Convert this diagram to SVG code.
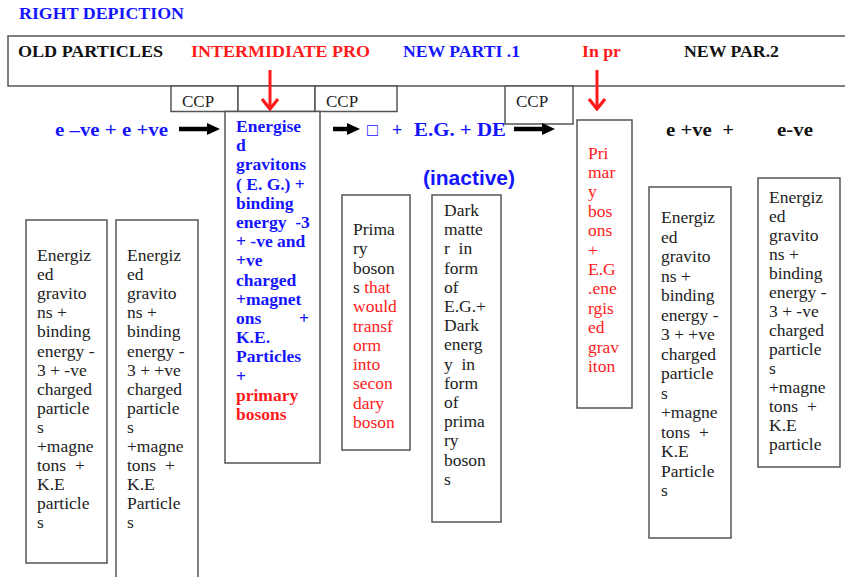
<svg xmlns="http://www.w3.org/2000/svg" width="845" height="577" viewBox="0 0 845 577">
<defs>
<style>
.box{fill:#fff;stroke:#555;stroke-width:1.5}
.hdr{font-family:"Liberation Serif","Times New Roman",serif;font-weight:bold;font-size:17px}
.t{font-family:"Liberation Serif","Times New Roman",serif;font-size:17.5px;fill:#222}
.tb{font-family:"Liberation Serif","Times New Roman",serif;font-size:17.5px;font-weight:bold;fill:#1414ff}
.ccp{font-family:"Liberation Serif","Times New Roman",serif;font-size:17px;fill:#222}
.blue{fill:#1414ff}
.red{fill:#ff1a1a}
.blk{fill:#111}
.eq{font-family:"Liberation Serif","Times New Roman",serif;font-weight:bold;font-size:18px}
</style>
<marker id="blkhead" markerUnits="userSpaceOnUse" viewBox="0 0 13 12" refX="0" refY="6" markerWidth="13" markerHeight="12" orient="auto">
<path d="M0,0 L13,6 L0,12 z" fill="#000"/>
</marker>
<marker id="redhead" markerUnits="userSpaceOnUse" viewBox="-12 -10 14 20" refX="0" refY="0" markerWidth="14" markerHeight="20" orient="auto">
<path d="M-10,-8 L0,0 L-10,8" fill="none" stroke="#ff1a1a" stroke-width="3.2"/>
</marker>
</defs>
<rect width="845" height="577" fill="#fff"/>

<text x="19" y="19" class="hdr blue" font-size="15" textLength="165" lengthAdjust="spacingAndGlyphs">RIGHT DEPICTION</text>

<g id="header">
<rect x="8" y="36" width="845" height="50" class="box" stroke="#777"/>
<text x="18" y="57" class="hdr blk" textLength="145" lengthAdjust="spacingAndGlyphs">OLD PARTICLES</text>
<text x="191" y="57" class="hdr red" textLength="179" lengthAdjust="spacingAndGlyphs">INTERMIDIATE PRO</text>
<text x="403" y="57" class="hdr blue" textLength="117" lengthAdjust="spacingAndGlyphs">NEW PARTI .1</text>
<text x="582" y="57" class="hdr red" textLength="39" lengthAdjust="spacingAndGlyphs">In pr</text>
<text x="684" y="57" class="hdr blk" textLength="95" lengthAdjust="spacingAndGlyphs">NEW PAR.2</text>
</g>

<g id="ccp1"><rect x="171" y="86" width="67" height="25.5" class="box"/><text x="182" y="107" class="ccp">CCP</text></g>
<g id="ccp-mid"><rect x="238" y="86" width="77" height="25.5" class="box"/></g>
<g id="ccp2"><rect x="315" y="86" width="82" height="25.5" class="box"/><text x="326" y="107" class="ccp">CCP</text></g>
<g id="ccp3"><rect x="505" y="86" width="68" height="38" class="box"/><text x="516" y="107" class="ccp">CCP</text></g>

<g id="eq-left"><text x="55" y="136" class="eq blue" textLength="113" lengthAdjust="spacingAndGlyphs">e –ve + e +ve</text></g>
<g id="eq-mid">
<text x="367" y="136" class="eq blue" font-weight="normal">□</text>
<text x="392" y="136" class="eq blue">+</text>
<text x="414" y="136" class="eq blue" textLength="92" lengthAdjust="spacingAndGlyphs">E.G. + DE</text>
</g>
<g id="eq-right">
<text x="666" y="136" class="eq blk" textLength="68" lengthAdjust="spacingAndGlyphs">e +ve&#160;&#160;+</text>
<text x="777" y="136" class="eq blk" textLength="36" lengthAdjust="spacingAndGlyphs">e-ve</text>
</g>
<g id="inactive"><text x="423" y="185" font-family="'Liberation Sans',Arial,sans-serif" font-weight="bold" font-size="20" class="blue" textLength="92" lengthAdjust="spacingAndGlyphs">(inactive)</text></g>

<g id="energised">
<rect x="225" y="111.5" width="95" height="351.5" class="box"/>
<text class="tb">
<tspan x="236" y="132">Energise</tspan>
<tspan x="236" y="151.2">d</tspan>
<tspan x="236" y="170.4">gravitons</tspan>
<tspan x="236" y="189.6">( E. G.) +</tspan>
<tspan x="236" y="208.8">binding</tspan>
<tspan x="236" y="228">energy&#160;&#160;-3</tspan>
<tspan x="236" y="247.2">+ -ve and</tspan>
<tspan x="236" y="266.4">+ve</tspan>
<tspan x="236" y="285.6">charged</tspan>
<tspan x="236" y="304.8">+magnet</tspan>
<tspan x="236" y="324">ons</tspan>
<tspan x="236" y="343.2">K.E.</tspan>
<tspan x="236" y="362.4">Particles</tspan>
<tspan x="236" y="381.6">+</tspan>
<tspan x="236" y="400.8" class="red">primary</tspan>
<tspan x="236" y="420" class="red">bosons</tspan>
</text>
<text x="309" y="324" class="tb" text-anchor="end">+</text>
</g>

<g id="old-neg">
<rect x="26" y="220" width="81" height="343" class="box"/>
<text class="t">
<tspan x="37" y="261">Energiz</tspan>
<tspan x="37" y="280.1">ed</tspan>
<tspan x="37" y="299.2">gravito</tspan>
<tspan x="37" y="318.3">ns +</tspan>
<tspan x="37" y="337.4">binding</tspan>
<tspan x="37" y="356.5">energy -</tspan>
<tspan x="37" y="375.6">3 + -ve</tspan>
<tspan x="37" y="394.7">charged</tspan>
<tspan x="37" y="413.8">particle</tspan>
<tspan x="37" y="432.9">s</tspan>
<tspan x="37" y="452">+magne</tspan>
<tspan x="37" y="471.1">tons&#160;&#160;+</tspan>
<tspan x="37" y="490.2">K.E</tspan>
<tspan x="37" y="509.3">particle</tspan>
<tspan x="37" y="528.4">s</tspan>
</text>
</g>

<g id="old-pos">
<rect x="116" y="220" width="82" height="362" class="box"/>
<text class="t">
<tspan x="127" y="261">Energiz</tspan>
<tspan x="127" y="280.1">ed</tspan>
<tspan x="127" y="299.2">gravito</tspan>
<tspan x="127" y="318.3">ns +</tspan>
<tspan x="127" y="337.4">binding</tspan>
<tspan x="127" y="356.5">energy -</tspan>
<tspan x="127" y="375.6">3 + +ve</tspan>
<tspan x="127" y="394.7">charged</tspan>
<tspan x="127" y="413.8">particle</tspan>
<tspan x="127" y="432.9">s</tspan>
<tspan x="127" y="452">+magne</tspan>
<tspan x="127" y="471.1">tons&#160;&#160;+</tspan>
<tspan x="127" y="490.2">K.E</tspan>
<tspan x="127" y="509.3">Particle</tspan>
<tspan x="127" y="528.4">s</tspan>
</text>
</g>

<g id="primary-bosons">
<rect x="342" y="195" width="68" height="255" class="box"/>
<text class="t">
<tspan x="353" y="235">Prima</tspan>
<tspan x="353" y="254.3">ry</tspan>
<tspan x="353" y="273.6">boson</tspan>
<tspan x="353" y="292.9">s <tspan class="red">that</tspan></tspan>
<tspan x="353" y="312.2" class="red">would</tspan>
<tspan x="353" y="331.5" class="red">transf</tspan>
<tspan x="353" y="350.8" class="red">orm</tspan>
<tspan x="353" y="370.1" class="red">into</tspan>
<tspan x="353" y="389.4" class="red">secon</tspan>
<tspan x="353" y="408.7" class="red">dary</tspan>
<tspan x="353" y="428" class="red">boson</tspan>
</text>
</g>

<g id="dark-matter">
<rect x="432" y="195" width="69" height="327" class="box"/>
<text class="t">
<tspan x="444" y="216">Dark</tspan>
<tspan x="444" y="235.2">matte</tspan>
<tspan x="444" y="254.4">r&#160;&#160;in</tspan>
<tspan x="444" y="273.6">form</tspan>
<tspan x="444" y="292.8">of</tspan>
<tspan x="444" y="312">E.G.+</tspan>
<tspan x="444" y="331.2">Dark</tspan>
<tspan x="444" y="350.4">energ</tspan>
<tspan x="444" y="369.6">y&#160;&#160;in</tspan>
<tspan x="444" y="388.8">form</tspan>
<tspan x="444" y="408">of</tspan>
<tspan x="444" y="427.2">prima</tspan>
<tspan x="444" y="446.4">ry</tspan>
<tspan x="444" y="465.6">boson</tspan>
<tspan x="444" y="484.8">s</tspan>
</text>
</g>

<g id="primary-eg">
<rect x="577" y="120" width="55" height="288" class="box"/>
<text class="t red">
<tspan x="588" y="158.5">Pri</tspan>
<tspan x="588" y="177.9">mar</tspan>
<tspan x="588" y="197.3">y</tspan>
<tspan x="588" y="216.7">bos</tspan>
<tspan x="588" y="236.1">ons</tspan>
<tspan x="588" y="255.5">+</tspan>
<tspan x="588" y="274.9">E.G</tspan>
<tspan x="588" y="294.3">.ene</tspan>
<tspan x="588" y="313.7">rgis</tspan>
<tspan x="588" y="333.1">ed</tspan>
<tspan x="588" y="352.5">grav</tspan>
<tspan x="588" y="371.9">iton</tspan>
</text>
</g>

<g id="new-pos">
<rect x="649" y="187" width="82" height="351" class="box"/>
<text class="t">
<tspan x="661" y="223">Energiz</tspan>
<tspan x="661" y="242.5">ed</tspan>
<tspan x="661" y="262">gravito</tspan>
<tspan x="661" y="281.5">ns +</tspan>
<tspan x="661" y="301">binding</tspan>
<tspan x="661" y="320.5">energy -</tspan>
<tspan x="661" y="340">3 + +ve</tspan>
<tspan x="661" y="359.5">charged</tspan>
<tspan x="661" y="379">particle</tspan>
<tspan x="661" y="398.5">s</tspan>
<tspan x="661" y="418">+magne</tspan>
<tspan x="661" y="437.5">tons&#160;&#160;+</tspan>
<tspan x="661" y="457">K.E</tspan>
<tspan x="661" y="476.5">Particle</tspan>
<tspan x="661" y="496">s</tspan>
</text>
</g>

<g id="new-neg">
<rect x="758" y="178" width="82" height="289" class="box"/>
<text class="t">
<tspan x="769" y="203">Energiz</tspan>
<tspan x="769" y="222">ed</tspan>
<tspan x="769" y="241">gravito</tspan>
<tspan x="769" y="260">ns +</tspan>
<tspan x="769" y="279">binding</tspan>
<tspan x="769" y="298">energy -</tspan>
<tspan x="769" y="317">3 + -ve</tspan>
<tspan x="769" y="336">charged</tspan>
<tspan x="769" y="355">particle</tspan>
<tspan x="769" y="374">s</tspan>
<tspan x="769" y="393">+magne</tspan>
<tspan x="769" y="412">tons&#160;&#160;+</tspan>
<tspan x="769" y="431">K.E</tspan>
<tspan x="769" y="450">particle</tspan>
</text>
</g>

<g id="connectors">
<line x1="179" y1="129" x2="207" y2="129" stroke="#000" stroke-width="4.5" marker-end="url(#blkhead)"/>
<line x1="333" y1="129" x2="347" y2="129" stroke="#000" stroke-width="4.5" marker-end="url(#blkhead)"/>
<line x1="514" y1="129" x2="542" y2="129" stroke="#000" stroke-width="4.5" marker-end="url(#blkhead)"/>
<line x1="270" y1="70" x2="270" y2="109" stroke="#ff1a1a" stroke-width="3" marker-end="url(#redhead)"/>
<line x1="597" y1="70" x2="597" y2="109" stroke="#ff1a1a" stroke-width="3" marker-end="url(#redhead)"/>
</g>
</svg>
